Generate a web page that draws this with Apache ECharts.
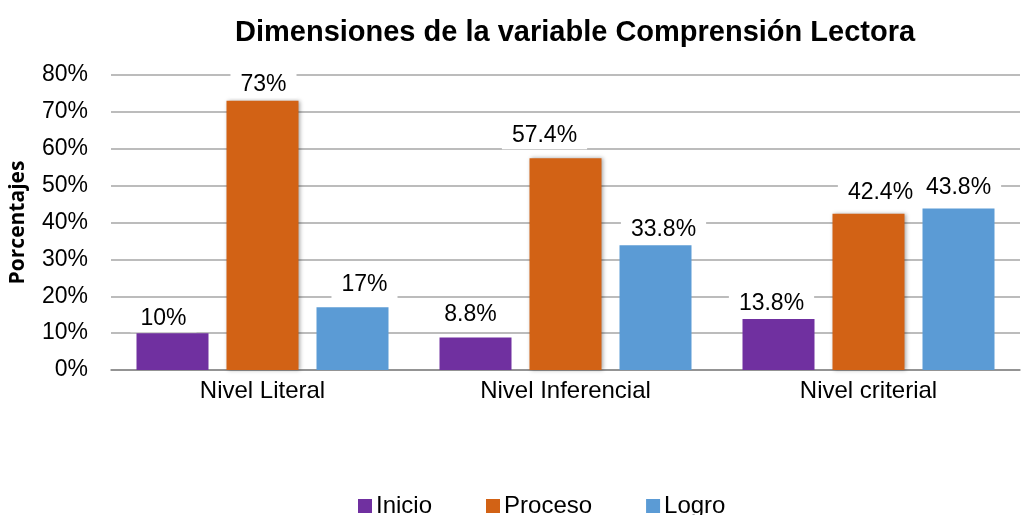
<!DOCTYPE html>
<html>
<head>
<meta charset="utf-8">
<script src="https://cdn.jsdelivr.net/npm/echarts@6/dist/echarts.min.js"></script>
<style>html,body{margin:0;padding:0;background:#fff}#c{width:1021px;height:515px}</style>
</head>
<body>
<div id="c"></div>
<script>
const categories = ['Nivel Literal', 'Nivel Inferencial', 'Nivel criterial'];
const inicio = [10, 8.8, 13.8];
const proceso = [73, 57.4, 42.4];
const logro = [17, 33.8, 43.8];
const seriesNames = ['Inicio', 'Proceso', 'Logro'];
const colors = ['#7030A0', '#D26215', '#5B9BD5'];
// manual label nudges (as in the original chart), per series per category
const labelNudges = [
  [[-9, 2], [-5, -6], [-7, 1]],
  [[1, 0], [-21, -6], [12, -4]],
  [[12, -6], [8, 1], [0, -4]]
];

const chart = echarts.init(document.getElementById('c'), null, {renderer: 'canvas'});
const font = '"Liberation Sans", Arial, sans-serif';
function mk(idx, data) {
  return {
    name: seriesNames[idx], type: 'bar',
    data: data.map((v, i) => ({value: v, label: {offset: labelNudges[idx][i]}})),
    barWidth: 72, barGap: '25%',
    itemStyle: Object.assign({color: colors[idx]}, idx === 1 ? {shadowColor: 'rgba(0,0,0,0.35)', shadowBlur: 4, shadowOffsetX: 1, shadowOffsetY: 0} : {}),
    label: {
      show: true, position: 'top', distance: 3,
      formatter: p => p.value + '%',
      fontFamily: font, fontSize: 23, color: '#000',
      backgroundColor: '#fff', padding: [3, 10, 2, 10]
    }
  };
}
chart.setOption({
  animation: false,
  textStyle: {fontFamily: font},
  title: {
    text: 'Dimensiones de la variable Comprensión Lectora',
    left: 230, top: 13,
    textStyle: {fontFamily: font, fontSize: 29, fontWeight: 'bold', color: '#000'}
  },
  legend: {
    data: seriesNames, bottom: -8, left: 353,
    itemWidth: 14, itemHeight: 14, itemGap: 54,
    icon: 'rect',
    textStyle: {fontFamily: font, fontSize: 24, color: '#000', padding: [0, 0, 0, -1]}
  },
  grid: {left: 111, right: 1, top: 75, bottom: 145, containLabel: false},
  xAxis: {
    type: 'category', data: categories,
    axisTick: {show: false},
    axisLine: {lineStyle: {color: '#868686', width: 1.5}},
    axisLabel: {fontFamily: font, fontSize: 24, color: '#000', margin: 9}
  },
  yAxis: {
    type: 'value', min: 0, max: 80, interval: 10,
    name: 'Porcentajes', nameLocation: 'middle', nameGap: 82, nameRotate: 90,
    nameTextStyle: {fontFamily: '"Open Sans", sans-serif', fontWeight: 'bold', fontSize: 21, color: '#000'},
    axisLabel: {formatter: '{value}%', fontFamily: font, fontSize: 23, color: '#000', margin: 23},
    axisLine: {show: false}, axisTick: {show: false},
    splitLine: {lineStyle: {color: '#A6A6A6', width: 1.5}}
  },
  series: [mk(0, inicio), mk(1, proceso), mk(2, logro)]
});
</script>
</body>
</html>
